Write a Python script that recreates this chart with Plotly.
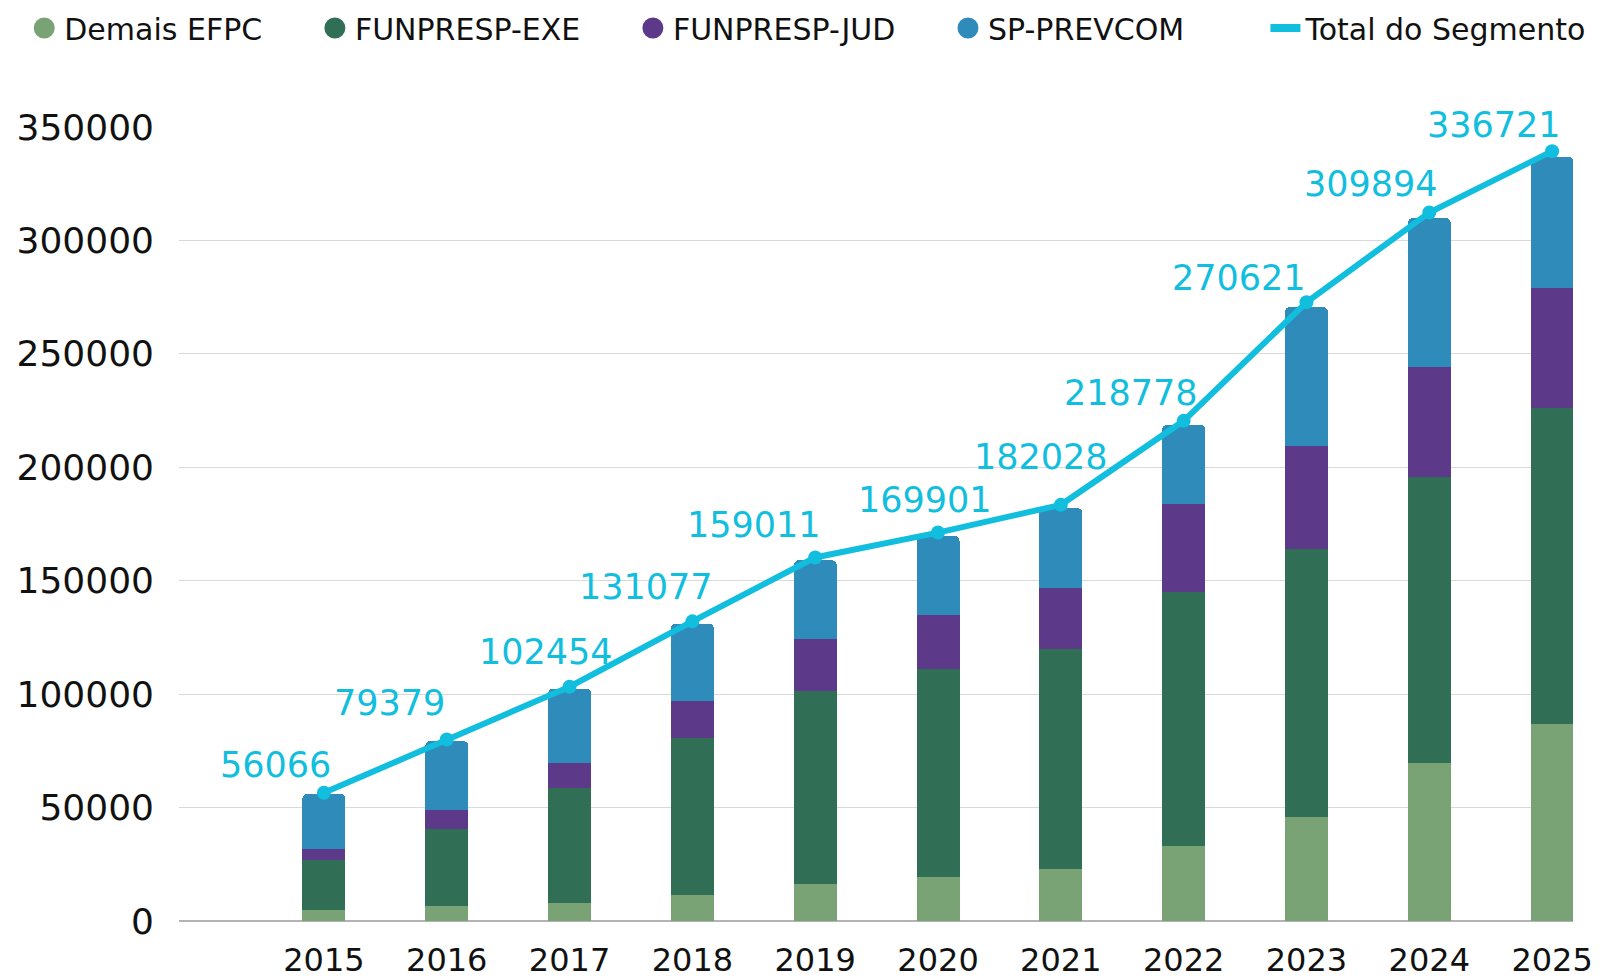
"""
Evolução de participantes por entidade (EFPC) - barras empilhadas com linha do total
"""
import plotly.graph_objects as go

# Dados
anos = [2015, 2016, 2017, 2018, 2019, 2020, 2021, 2022, 2023, 2024, 2025]
demais_efpc = [5000, 6700, 8100, 11300, 16300, 19400, 23100, 33000, 45700, 69600, 86800]
funpresp_exe = [21700, 34000, 50700, 69200, 85000, 91700, 96800, 112100, 118400, 126200, 139300]
funpresp_jud = [4950, 8100, 10800, 16300, 23000, 23800, 27000, 38500, 45200, 48400, 52900]
sp_prevcom = [24416, 30579, 32854, 34277, 34711, 35001, 35128, 35178, 61321, 65694, 57721]
total_segmento = [56066, 79379, 102454, 131077, 159011, 169901, 182028, 218778, 270621, 309894, 336721]

y_ticks = [0, 50000, 100000, 150000, 200000, 250000, 300000, 350000]

# Configuração visual
CHART_CONFIG = {
    'font': 'DejaVu Sans',
    'cores': {
        'Demais EFPC': '#79A374',
        'FUNPRESP-EXE': '#306E55',
        'FUNPRESP-JUD': '#5C3A89',
        'SP-PREVCOM': '#2E8BBA',
    },
    'linha': '#12BEDE',
    'grade': '#D9D9D9',
    'eixo': '#B3B3B3',
}

# a página tem 8px de margem no body
LARGURA, ALTURA = 1603, 971

NBSP = '\u00a0'
# espaços extras depois de cada nome, para afastar as entradas da legenda
ESPACOS_LEGENDA = {'Demais EFPC': 5, 'FUNPRESP-EXE': 5, 'FUNPRESP-JUD': 5, 'SP-PREVCOM': 8}

# deslocamento (px) de cada rótulo do total em relação ao ponto, como no original
ROTULO_DX = [-48, -57, -24, -46, -61, -13, -20, -53, -67, -58, -58]
ROTULO_DY = [6, 15, 13, 12, 10, 11, 26, 6, 2, 7, 4]


def criar_figura() -> go.Figure:
    fig = go.Figure()

    series = [
        ('Demais EFPC', demais_efpc),
        ('FUNPRESP-EXE', funpresp_exe),
        ('FUNPRESP-JUD', funpresp_jud),
        ('SP-PREVCOM', sp_prevcom),
    ]

    # barras empilhadas
    for nome, valores in series:
        fig.add_trace(go.Bar(
            x=anos,
            y=valores,
            name=nome,
            width=0.35,
            marker=dict(color=CHART_CONFIG['cores'][nome], line=dict(width=0)),
            showlegend=False,
        ))

    # entradas de legenda com círculo
    for nome, _ in series:
        cor = CHART_CONFIG['cores'][nome]
        fig.add_trace(go.Scatter(
            x=[None],
            y=[None],
            mode='markers',
            name=nome + NBSP * ESPACOS_LEGENDA[nome],
            marker=dict(color=cor, size=16, symbol='circle', line=dict(color=cor, width=5)),
        ))

    # entrada de legenda da linha (só o traço)
    fig.add_trace(go.Scatter(
        x=[None],
        y=[None],
        mode='lines',
        name='Total do Segmento',
        line=dict(color=CHART_CONFIG['linha'], width=8),
    ))

    # linha do total
    fig.add_trace(go.Scatter(
        x=anos,
        y=total_segmento,
        mode='lines+markers',
        name='Total do Segmento',
        yaxis='y2',
        line=dict(color=CHART_CONFIG['linha'], width=6),
        marker=dict(color=CHART_CONFIG['linha'], size=14),
        showlegend=False,
        cliponaxis=False,
    ))

    # rótulos do total
    for ano, valor, dx, dy in zip(anos, total_segmento, ROTULO_DX, ROTULO_DY):
        fig.add_annotation(
            x=ano,
            y=valor,
            xref='x',
            yref='y2',
            text=str(valor),
            showarrow=False,
            xanchor='center',
            yanchor='bottom',
            xshift=dx,
            yshift=dy,
            font=dict(family=CHART_CONFIG['font'], size=35, color=CHART_CONFIG['linha']),
        )

    return fig


def aplicar_layout(fig: go.Figure) -> None:
    fig.update_layout(
        width=LARGURA,
        height=ALTURA,
        barmode='stack',
        barcornerradius=5,
        plot_bgcolor='white',
        paper_bgcolor='white',
        margin=dict(l=171, r=38, t=119, b=58, autoexpand=False),
        font=dict(family=CHART_CONFIG['font'], color='#111111'),
        showlegend=True,
        legend=dict(
            orientation='h',
            x=-0.111,
            xanchor='left',
            y=1.1247,
            yanchor='middle',
            font=dict(family=CHART_CONFIG['font'], size=30, color='#111111'),
            itemsizing='trace',
            traceorder='normal',
            bgcolor='rgba(0,0,0,0)',
        ),
        xaxis=dict(
            range=[2013.82, 2025.17],
            tickvals=anos,
            ticktext=[str(a) for a in anos],
            showgrid=False,
            zeroline=False,
            showline=False,
            automargin=False,
            ticklabelstandoff=17,
            tickfont=dict(size=32, color='#111111'),
        ),
        yaxis=dict(
            range=[0, 350000],
            tickvals=y_ticks,
            ticktext=[str(t) for t in y_ticks],
            showgrid=True,
            gridcolor=CHART_CONFIG['grade'],
            gridwidth=1,
            zeroline=True,
            zerolinecolor=CHART_CONFIG['eixo'],
            zerolinewidth=2,
            automargin=False,
            ticklabelstandoff=24,
            tickfont=dict(size=36, color='#111111'),
        ),
        yaxis2=dict(
            range=[0, 347300],
            overlaying='y',
            visible=False,
        ),
    )


fig = criar_figura()
aplicar_layout(fig)
fig.write_html("out.html")
